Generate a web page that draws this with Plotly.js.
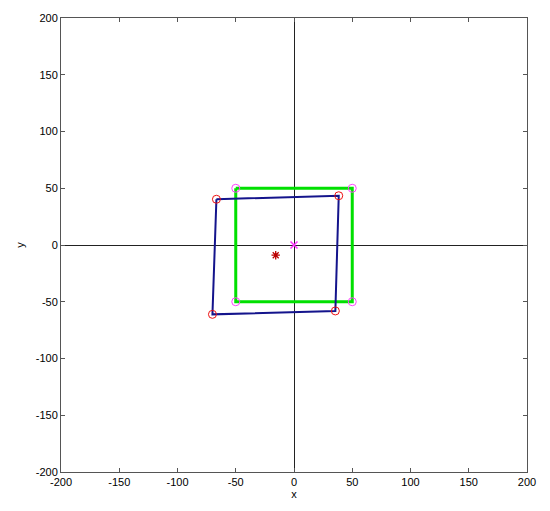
<!DOCTYPE html>
<html><head><meta charset="utf-8">
<script src="https://cdn.plot.ly/plotly-3.0.1.min.js"></script>
<style>html,body{margin:0;padding:0;background:#fff}#plot{width:550px;height:511px}</style>
</head><body><div id="plot"></div>
<script>
// Original square
const squareX = [-50, 50, 50, -50, -50];
const squareY = [50, 50, -50, -50, 50];
// Transformed quadrilateral
const quadX = [-66.6, 38.4, 35.5, -70.0, -66.6];
const quadY = [40.3, 43.4, -58.1, -61.1, 40.3];
// Centres
const originCentre = [0, 0];
const quadCentre = [-15.7, -9.0];
// Ticks
const tickValues = [-200, -150, -100, -50, 0, 50, 100, 150, 200];
const tickLabels = ['-200', '-150', '-100', '-50', '0', '50', '100', '150', '200'];

const traces = [
  {x: squareX, y: squareY, mode: 'lines', line: {color: '#00e000', width: 3}, hoverinfo: 'skip'},
  {x: squareX.slice(0, 4), y: squareY.slice(0, 4), mode: 'markers',
   marker: {symbol: 'circle-open', size: 8, color: '#ff44ff', line: {width: 1}}},
  {x: [originCentre[0]], y: [originCentre[1]], mode: 'markers',
   marker: {symbol: 'x-thin-open', size: 7, color: '#ff33ff', line: {width: 1.5, color: '#ff33ff'}}},
  {x: quadX, y: quadY, mode: 'lines', line: {color: '#14148c', width: 2}},
  {x: quadX.slice(0, 4), y: quadY.slice(0, 4), mode: 'markers',
   marker: {symbol: 'circle-open', size: 8, color: '#ee1111', line: {width: 1}}},
  {x: [quadCentre[0]], y: [quadCentre[1]], mode: 'markers',
   marker: {symbol: 'asterisk-open', size: 7, color: '#bb0000', line: {width: 1.3, color: '#bb0000'}}}
];

const font = {family: 'Liberation Sans, Arial, sans-serif', size: 11, color: '#000'};
const axisCommon = {
  range: [-200, 200], tickmode: 'array', tickvals: tickValues, ticktext: tickLabels,
  ticks: 'inside', ticklen: 4, tickcolor: '#555', showgrid: false,
  zeroline: true, zerolinecolor: '#222', zerolinewidth: 1,
  showline: true, linecolor: '#555', linewidth: 1, mirror: 'ticks',
  tickfont: font
};

const layout = {
  width: 550, height: 511,
  margin: {l: 61, r: 23, t: 18, b: 39},
  paper_bgcolor: '#fff', plot_bgcolor: '#fff',
  showlegend: false,
  xaxis: Object.assign({}, axisCommon, {title: {text: 'x', standoff: 3, font: font}}),
  yaxis: Object.assign({}, axisCommon, {title: {text: 'y', standoff: 8, font: font}})
};

Plotly.newPlot('plot', traces, layout, {displayModeBar: false, staticPlot: true});
</script></body></html>
